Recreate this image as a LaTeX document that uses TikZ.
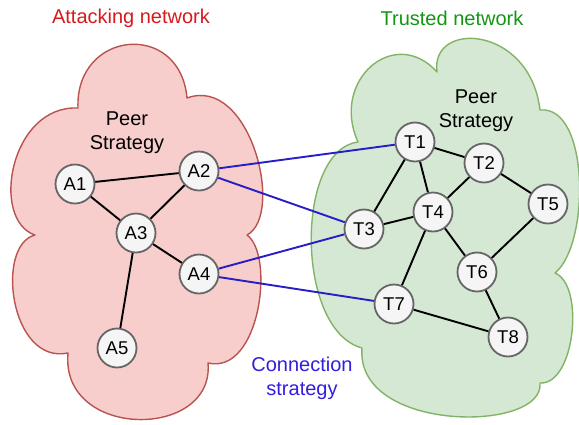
\documentclass[tikz,border=0pt]{standalone}
\usepackage{fontspec}
\setmainfont{Liberation Sans}
\definecolor{redfill}{HTML}{F8CECC}
\definecolor{redline}{HTML}{B85450}
\definecolor{greenfill}{HTML}{D5E8D4}
\definecolor{greenline}{HTML}{82B366}
\definecolor{nodefill}{HTML}{F5F5F5}
\definecolor{nodeline}{HTML}{666666}
\definecolor{redtext}{RGB}{215,25,30}
\definecolor{greentext}{RGB}{20,150,20}
\definecolor{bluetext}{RGB}{50,30,220}
\definecolor{connblue}{RGB}{40,30,200}
\begin{document}
\begin{tikzpicture}[x=1pt,y=-1pt,
  peer/.style={circle, draw=nodeline, fill=nodefill, line width=1.8pt, minimum size=39pt, inner sep=0pt, font=\fontsize{18.5}{20}\selectfont},
  tedge/.style={line width=1.9pt, black},
  cedge/.style={line width=1.9pt, connblue},
  lbl/.style={font=\fontsize{20}{24}\selectfont, align=center, inner sep=0pt},
  cloudred/.style={fill=redfill, draw=redline, line width=1.4pt, line join=round},
  cloudgreen/.style={fill=greenfill, draw=greenline, line width=1.4pt, line join=round}]
\useasboundingbox (0,0) rectangle (579,424);
% clouds
\path[cloudred] (78,108) .. controls (75,30) and (180,20) .. (187,98)
  .. controls (250,75) and (285,215) .. (247,235)
  .. controls (275,255) and (260,375) .. (208,363)
  .. controls (215,440) and (60,440) .. (68,353)
  .. controls (10,365) and (-5,245) .. (35,235)
  .. controls (-10,220) and (10,105) .. (78,108) -- cycle;
\path[cloudgreen] (358,142) .. controls (330,80) and (395,25) .. (437,72)
  .. controls (430,20) and (530,25) .. (540,110)
  .. controls (590,105) and (590,245) .. (555,273)
  .. controls (585,285) and (575,385) .. (540,383)
  .. controls (545,433) and (355,433) .. (362,348)
  .. controls (295,330) and (295,150) .. (358,142) -- cycle;
% labels
\node[lbl, text=redtext] (attl) at (131,18) {Attacking network};
\node[lbl, text=greentext] (trul) at (452,18) {Trusted network};
\node[lbl] (peerA) at (127,133) {Peer\\Strategy};
\node[lbl] (peerT) at (476,111) {Peer\\Strategy};
\node[lbl, text=bluetext] (conn) at (302,378) {Connection\\strategy};
% nodes
\node[peer] (A1) at (75,184) {A1};
\node[peer] (A2) at (199,171) {A2};
\node[peer] (A3) at (136,233) {A3};
\node[peer] (A4) at (199,274) {A4};
\node[peer] (A5) at (117,348) {A5};
\node[peer] (T1) at (415,142) {T1};
\node[peer] (T2) at (484,163) {T2};
\node[peer] (T3) at (364,229) {T3};
\node[peer] (T4) at (433,212) {T4};
\node[peer] (T5) at (548,204) {T5};
\node[peer] (T6) at (477,272) {T6};
\node[peer] (T7) at (394,304) {T7};
\node[peer] (T8) at (508,337) {T8};
% edges
\draw[tedge] (A1) -- (A2);
\draw[tedge] (A1) -- (A3);
\draw[tedge] (A2) -- (A3);
\draw[tedge] (A3) -- (A4);
\draw[tedge] (A3) -- (A5);
\draw[tedge] (T1) -- (T2);
\draw[tedge] (T1) -- (T3);
\draw[tedge] (T1) -- (T4);
\draw[tedge] (T2) -- (T4);
\draw[tedge] (T2) -- (T5);
\draw[tedge] (T3) -- (T4);
\draw[tedge] (T4) -- (T6);
\draw[tedge] (T4) -- (T7);
\draw[tedge] (T5) -- (T6);
\draw[tedge] (T6) -- (T8);
\draw[tedge] (T7) -- (T8);
\draw[cedge] (A2) -- (T1);
\draw[cedge] (A2) -- (T3);
\draw[cedge] (A4) -- (T3);
\draw[cedge] (A4) -- (T7);
\end{tikzpicture}
\end{document}
